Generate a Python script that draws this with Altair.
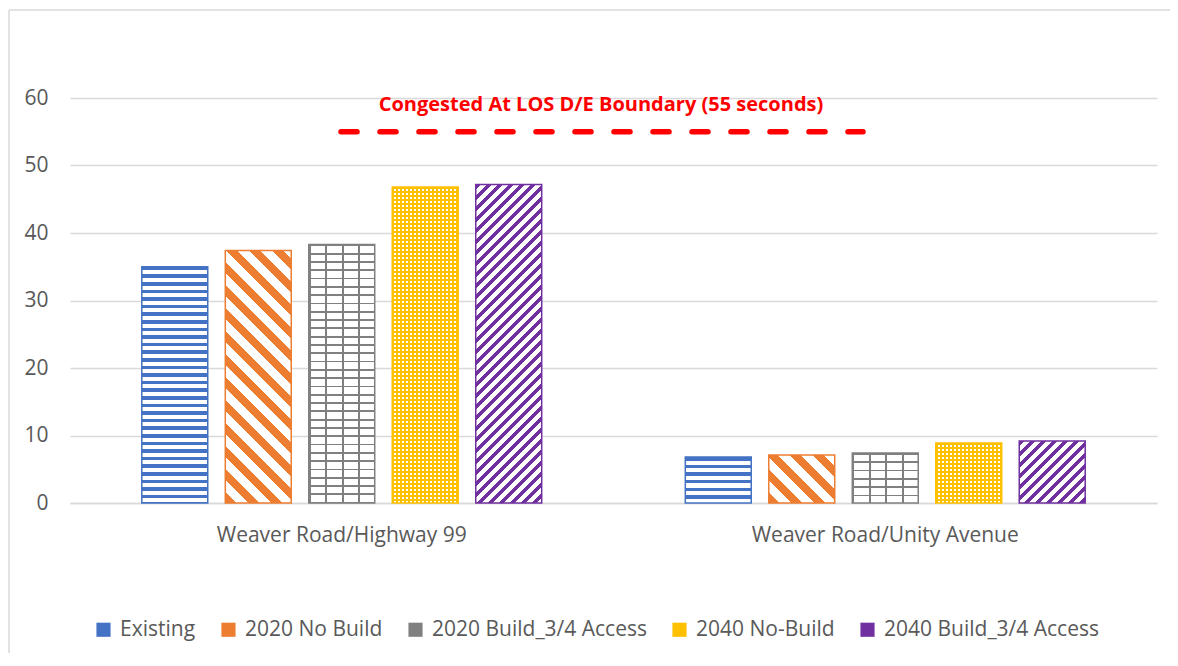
import math
import altair as alt
import pandas as pd

# ---------------- data ----------------
locations = ["Weaver Road/Highway 99", "Weaver Road/Unity Avenue"]
series = ["Existing", "2020 No Build", "2020 Build_3/4 Access", "2040 No-Build", "2040 Build_3/4 Access"]
hwy99_delay = [35.0, 37.4, 38.3, 46.8, 47.2]
unity_delay = [6.8, 7.1, 7.4, 8.9, 9.2]
series_colors = ["#4472C4", "#ED7D31", "#808080", "#FFC000", "#7030A0"]
y_ticks = [0, 10, 20, 30, 40, 50, 60]
threshold_value = [55]
threshold_label = ["Congested At LOS D/E Boundary (55 seconds)"]

rows = []
for loc, vals in zip(locations, [hwy99_delay, unity_delay]):
    for s, v in zip(series, vals):
        rows.append({"location": loc, "series": s, "value": v})
df = pd.DataFrame(rows)

# ---------------- layout ----------------
PLOT_W, PLOT_H = 1087, 405
Y_MAX = 60
PX = PLOT_H / Y_MAX
OFF_PI, OFF_PO = 0.21, 0.86
BAND = PLOT_W / len(locations)
STEP = BAND / (len(series) - OFF_PI + 2 * OFF_PO)
BAR_W = STEP * (1 - OFF_PI)
FONT = "Open Sans"
TXT = "#595959"
GRID = "#D9D9D9"
TRANSP = "rgba(255,255,255,0)"


def band_stops(total, period, line, c_line, c_gap):
    stops = []
    pos = 0.0
    while pos < total - 1e-6:
        a = pos / total
        b = min(pos + line, total) / total
        c = min(pos + period, total) / total
        stops += [(a, c_line), (b, c_line), (b, c_gap), (c, c_gap)]
        pos += period
    return [alt.GradientStop(offset=round(o, 5), color=col) for o, col in stops]


def horiz(h, period, line, c_line, c_gap):
    return alt.LinearGradient(gradient="linear", x1=0, y1=0, x2=0, y2=1,
                              stops=band_stops(h, period, line, c_line, c_gap))


def vert(w, period, line, c_line, c_gap):
    return alt.LinearGradient(gradient="linear", x1=0, y1=0, x2=1, y2=0,
                              stops=band_stops(w, period, line, c_line, c_gap))


def diag_down(w, h, period, line, c_line, c_gap):
    # stripes running from top-left to bottom-right
    r = h / w
    s = (1 + r) / (1 + r * r)
    return alt.LinearGradient(gradient="linear", x1=0, y1=1, x2=s, y2=1 - r * s,
                              stops=band_stops(w + h, period, line, c_line, c_gap))


def diag_up(w, h, period, line, c_line, c_gap):
    # stripes running from bottom-left to top-right
    r = h / w
    s = (1 + r) / (1 + r * r)
    return alt.LinearGradient(gradient="linear", x1=0, y1=0, x2=s, y2=r * s,
                              stops=band_stops(w + h, period, line, c_line, c_gap))


def fills_for(si, w, h, col):
    if si == 0:
        return [horiz(h, 7.6, 3.6, col, "white")]
    if si == 1:
        return [diag_down(w, h, 23, 11, col, "white")]
    if si == 2:
        return [horiz(h, 8.3, 1.8, col, "white"), vert(w, 16.5, 1.8, col, TRANSP)]
    if si == 3:
        return [horiz(h, 4, 2, col, "white"), vert(w, 4, 2, col, TRANSP)]
    return [diag_up(w, h, 11, 5.5, col, "white")]


x_scale = alt.Scale(domain=locations, paddingInner=0, paddingOuter=0)
x_axis = alt.Axis(title=None, labelAngle=0, labelFontSize=21, labelFont=FONT,
                  labelColor=TXT, ticks=False, domainColor=GRID, domainWidth=1.3,
                  labelPadding=21, labelLimit=600, grid=False)
y_scale = alt.Scale(domain=[0, Y_MAX], nice=False)
y_axis = alt.Axis(title=None, values=y_ticks, labelFontSize=21, labelFont=FONT,
                  labelColor=TXT, ticks=False, domain=False, gridColor=GRID,
                  gridWidth=1.3, labelPadding=22)

x_enc = alt.X("location:N", sort=locations, scale=x_scale, axis=x_axis)
xo_enc = alt.XOffset("series:N", sort=series,
                     scale=alt.Scale(domain=series, paddingInner=OFF_PI, paddingOuter=OFF_PO))
y_enc = alt.Y("value:Q", scale=y_scale, axis=y_axis)

one = pd.DataFrame({"f": [1]})
frame_top = alt.Chart(one).mark_rule(color=GRID, strokeWidth=1.5).encode(
    x=alt.value(-61), x2=alt.value(1300), y=alt.value(-88))
frame_left = alt.Chart(one).mark_rule(color=GRID, strokeWidth=1.5).encode(
    x=alt.value(-61), y=alt.value(-88), y2=alt.value(800))

base = alt.Chart(df).mark_bar().encode(
    x=x_enc, xOffset=xo_enc, y=y_enc,
    color=alt.Color("series:N", sort=series,
                    scale=alt.Scale(domain=series, range=series_colors),
                    legend=alt.Legend(orient="none", direction="horizontal", title=None,
                                      legendX=23, legendY=521, symbolType="square",
                                      symbolSize=200, labelFontSize=21, labelFont=FONT,
                                      labelColor=TXT, columnPadding=22, labelOffset=6,
                                      labelLimit=500, symbolStrokeWidth=0)),
)

overlays = []
for li, (loc, vals) in enumerate(zip(locations, [hwy99_delay, unity_delay])):
    for si, (s, v) in enumerate(zip(series, vals)):
        col = series_colors[si]
        fills = fills_for(si, BAR_W, v * PX, col)
        for fi, g in enumerate(fills):
            kw = {"fill": g}
            if fi == len(fills) - 1:
                kw.update(stroke=col, strokeWidth=1.5)
            overlays.append(
                alt.Chart(df)
                .transform_filter((alt.datum.location == loc) & (alt.datum.series == s))
                .mark_bar(**kw)
                .encode(x=x_enc, xOffset=xo_enc, y=y_enc)
            )

ann = pd.DataFrame({"value": threshold_value, "label": threshold_label})
rule = alt.Chart(ann).mark_rule(
    color="#FF0000", strokeWidth=5.5, strokeDash=[16, 23], strokeCap="round"
).encode(y=y_enc, x=alt.value(271), x2=alt.value(793))
text = alt.Chart(ann).mark_text(
    font=FONT, fontSize=20, fontWeight="bold", color="#FF0000", align="center",
    baseline="middle", dy=-27
).encode(y=y_enc, x=alt.value(531), text="label:N")

chart = alt.layer(frame_top, frame_left, base, *overlays, rule, text).properties(
    width=PLOT_W, height=PLOT_H,
    padding={"left": 62, "top": 90, "right": 13, "bottom": 150},
    autosize=alt.AutoSizeParams(type="none"),
    background="white",
).configure_view(stroke=None)

chart.save("out.html", embed_options={"renderer": "svg", "actions": False})
